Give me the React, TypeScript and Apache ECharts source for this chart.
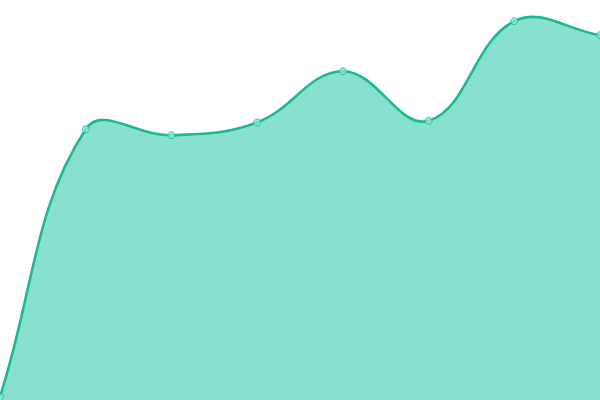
import { useEffect, useRef } from "react";
import * as echarts from "echarts";

const categories = ["A", "B", "C", "D", "E", "F", "G", "H"];
const values = [0.8, 67.7, 66.2, 69.4, 82.2, 69.8, 94.7, 91.2];

const LINE = "#1db993";
const AREA = "#88e0cf";
const TENSION = 0.4;

// cardinal spline control points (distance-weighted), same shape as a tension 0.4 line
function buildPath(pts: number[][]): string {
  const n = pts.length;
  const cps = pts.map((p, i) => {
    const prev = pts[Math.max(i - 1, 0)];
    const next = pts[Math.min(i + 1, n - 1)];
    const d01 = Math.hypot(p[0] - prev[0], p[1] - prev[1]);
    const d12 = Math.hypot(next[0] - p[0], next[1] - p[1]);
    const sum = d01 + d12 || 1;
    const fa = (TENSION * d01) / sum;
    const fb = (TENSION * d12) / sum;
    return {
      prev: [p[0] - fa * (next[0] - prev[0]), p[1] - fa * (next[1] - prev[1])],
      next: [p[0] + fb * (next[0] - prev[0]), p[1] + fb * (next[1] - prev[1])],
    };
  });
  let d = `M${pts[0][0]},${pts[0][1]}`;
  for (let i = 1; i < n; i++) {
    const c1 = cps[i - 1].next;
    const c2 = cps[i].prev;
    d += ` C${c1[0]},${c1[1]} ${c2[0]},${c2[1]} ${pts[i][0]},${pts[i][1]}`;
  }
  return d;
}

export default function App() {
  const chartRef = useRef<HTMLDivElement>(null);

  useEffect(() => {
    if (!chartRef.current) return;
    const chart = echarts.init(chartRef.current, undefined, { renderer: "svg" });

    const seriesData = values.map((v, i) => [i, v]);

    chart.setOption({
      animation: false,
      grid: { left: 0, right: 0, top: 0, bottom: 0 },
      xAxis: {
        type: "category",
        data: categories,
        boundaryGap: false,
        show: false,
      },
      yAxis: {
        type: "value",
        min: 0,
        max: 100,
        show: false,
      },
      series: [
        {
          type: "custom",
          data: seriesData,
          encode: { x: 0, y: 1 },
          clip: false,
          silent: true,
          renderItem: (params: any, api: any) => {
            if (params.dataIndex !== 0) return null;
            const pts = seriesData.map((d) => api.coord(d));
            const base = api.coord([0, 0])[1];
            const curve = buildPath(pts);
            const last = pts[pts.length - 1];
            const area = `${curve} L${last[0]},${base} L${pts[0][0]},${base} Z`;
            return {
              type: "group",
              children: [
                { type: "path", shape: { pathData: area }, style: { fill: AREA, stroke: "none" } },
                {
                  type: "path",
                  shape: { pathData: curve },
                  style: { fill: "none", stroke: LINE, lineWidth: 2.6 },
                },
              ],
            };
          },
        },
        {
          type: "scatter",
          data: seriesData,
          symbol: "circle",
          symbolSize: 7,
          itemStyle: { color: "#8ee2cf", borderColor: LINE, borderWidth: 1 },
          z: 3,
        },
      ],
    });

    return () => {
      chart.dispose();
    };
  }, []);

  return (
    <div
      ref={chartRef}
      style={{ position: "absolute", left: 0, top: 0, width: 600, height: 400 }}
    />
  );
}
